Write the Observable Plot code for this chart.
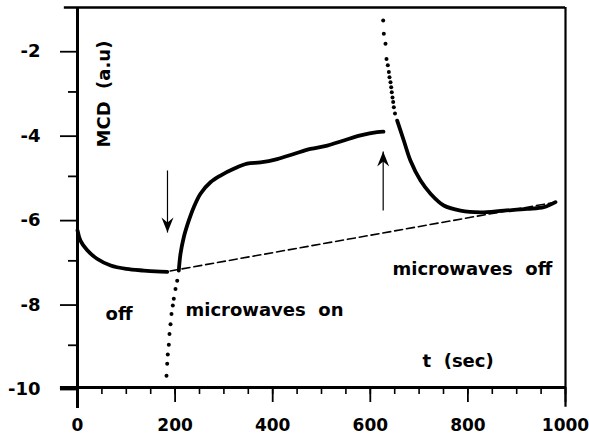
<!DOCTYPE html>
<html><head><meta charset="utf-8">
<script src="https://cdn.jsdelivr.net/npm/d3@7"></script>
<script src="https://cdn.jsdelivr.net/npm/@observablehq/plot@0.6"></script>
<style>body{margin:0;background:#fff}</style>
</head><body><div id="chart"></div>
<script>
// "off" relaxation before microwaves are switched on
const offT = [0, 6, 20, 40, 68, 100, 136, 160, 184];
const offV = [-6.28, -6.52, -6.75, -6.95, -7.11, -7.19, -7.23, -7.25, -7.26];
// sparse samples of the fast rise (drawn as dots)
const riseDotsT = [182.4, 183.8, 185, 187.1, 188.5, 190.6, 192.6, 195.3, 197.3, 200.8, 204.3];
const riseDotsV = [-9.72, -9.44, -9.22, -8.99, -8.73, -8.50, -8.26, -8.06, -7.90, -7.67, -7.47];
// microwaves on
const onT = [207.6, 211, 217.8, 228, 238.3, 252, 272.5, 293, 320.3, 347.7, 375, 409.2, 443.2, 477.5, 511.7, 545.7, 580, 614, 627];
const onV = [-7.23, -6.84, -6.44, -6.05, -5.73, -5.41, -5.14, -4.98, -4.82, -4.70, -4.67, -4.59, -4.47, -4.35, -4.27, -4.15, -4.03, -3.95, -3.94];
// sparse samples of the fast decay (drawn as dots)
const decayDotsT = [626.4, 627.7, 631.1, 633.2, 635.9, 638, 639.3, 641.4, 642.8, 644, 645.5, 646.9, 648.2, 650.6];
const decayDotsV = [-1.31, -1.62, -1.86, -2.22, -2.37, -2.53, -2.65, -2.77, -2.89, -3.01, -3.13, -3.24, -3.36, -3.51];
// microwaves off again
const offAgainT = [655.1, 668.6, 682.4, 702.9, 723.4, 750.6, 784.8, 825.8, 873.6, 921.5, 955.5, 979.5];
const offAgainV = [-3.68, -4.15, -4.63, -5.10, -5.41, -5.69, -5.81, -5.85, -5.81, -5.77, -5.73, -5.61];
// dashed baseline
const baselineT = [190, 975];
const baselineV = [-7.24, -5.62];
// arrows
const arrowT = [184.4, 626.4];
const arrowFrom = [-4.86, -5.81];
const arrowTo = [-6.33, -4.41];
// ticks
const xTicks = [0, 200, 400, 600, 800, 1000];
const xMinorTicks = d3.range(0, 1001, 50);
const yTicks = [-10, -8, -6, -4, -2];
const yMinorTicks = [-9, -7, -5, -3];
// annotations
const labels = ["off", "microwaves\u00a0\u00a0on", "microwaves\u00a0\u00a0off", "t\u00a0\u00a0(sec)"];
const labelT = [57.4, 221.3, 645.5, 707];
const labelV = [-8.27, -8.17, -7.21, -9.38];
const yLabel = "MCD\u00a0\u00a0(a.u)";
const yLabelT = [55.3];
const yLabelV = [-3.05];

const xDomain = [0, 1000];
const yDomain = [-10, -1];

const pts = (t, v) => t.map((d, i) => ({t: d, v: v[i]}));
const off = pts(offT, offV);
const riseDots = pts(riseDotsT, riseDotsV);
const on = pts(onT, onV);
const decayDots = pts(decayDotsT, decayDotsV);
const offAgain = pts(offAgainT, offAgainV);
const baseline = pts(baselineT, baselineV);
const arrows = arrowT.map((t, i) => ({t, v1: arrowFrom[i], v2: arrowTo[i]}));
const ann = labels.map((s, i) => ({s, t: labelT[i], v: labelV[i]}));

const head = {draw(ctx) {
  ctx.moveTo(0, 0); ctx.lineTo(-6, -15); ctx.lineTo(0, -10); ctx.lineTo(6, -15); ctx.closePath();
}};

const chart = Plot.plot({
  width: 589, height: 438,
  marginLeft: 77, marginRight: 24, marginTop: 7, marginBottom: 51,
  x: {domain: xDomain, axis: null},
  y: {domain: yDomain, axis: null},
  style: {fontFamily: "'DejaVu Sans', sans-serif", fontWeight: "bold", fontSize: "18px", color: "black", background: "white", overflow: "visible"},
  marks: [
    // frame
    Plot.ruleX([xDomain[0]], {y1: -10.5, y2: yDomain[1], strokeWidth: 3}),
    Plot.ruleX([xDomain[1]], {y1: -10.47, y2: yDomain[1], strokeWidth: 2.2}),
    Plot.ruleY([yDomain[0]], {x1: -35, x2: xDomain[1], strokeWidth: 3}),
    Plot.ruleY([yDomain[1]], {x1: -27, x2: xDomain[1], strokeWidth: 2.5}),
    // axes
    Plot.axisX({ticks: xMinorTicks, tickSize: 7, strokeWidth: 1.6, tickFormat: () => "", label: null}),
    Plot.axisX({ticks: xTicks, tickSize: 15, tickPadding: 16, strokeWidth: 1.8, tickFormat: d => `${d}`, label: null, fontSize: 17}),
    Plot.axisY({ticks: yMinorTicks, tickSize: 9, strokeWidth: 1.8, tickFormat: () => "", label: null}),
    Plot.axisY({ticks: yTicks, tickSize: 17, tickPadding: 20, strokeWidth: 1.8, tickFormat: d => `${d}`, label: null, dy: 2, fontSize: 18}),
    // dashed baseline
    Plot.line(baseline, {x: "t", y: "v", stroke: "black", strokeWidth: 1.6, strokeDasharray: "8,4"}),
    // data
    Plot.line(off, {x: "t", y: "v", stroke: "black", strokeWidth: 3.8, curve: "catmull-rom"}),
    Plot.dot(riseDots, {x: "t", y: "v", r: 2, fill: "black"}),
    Plot.line(on, {x: "t", y: "v", stroke: "black", strokeWidth: 3.8, curve: "catmull-rom"}),
    Plot.dot(decayDots, {x: "t", y: "v", r: 2, fill: "black"}),
    Plot.line(offAgain, {x: "t", y: "v", stroke: "black", strokeWidth: 3.8, curve: "catmull-rom"}),
    // arrows
    Plot.link(arrows, {x1: "t", x2: "t", y1: "v1", y2: "v2", stroke: "black", strokeWidth: 1.2}),
    Plot.dot(arrows.slice(0, 1), {x: "t", y: "v2", symbol: head, fill: "black", stroke: "none"}),
    Plot.dot(arrows.slice(1), {x: "t", y: "v2", symbol: head, fill: "black", stroke: "none", rotate: 180}),
    // text
    Plot.text(ann, {x: "t", y: "v", text: "s", textAnchor: "start", fill: "black", fontSize: 18}),
    Plot.text(yLabelT.map((t, i) => ({t, v: yLabelV[i]})), {x: "t", y: "v", text: () => yLabel, rotate: -90, fill: "black", fontSize: 18})
  ]
});
document.getElementById("chart").appendChild(chart);
</script>
</body></html>
